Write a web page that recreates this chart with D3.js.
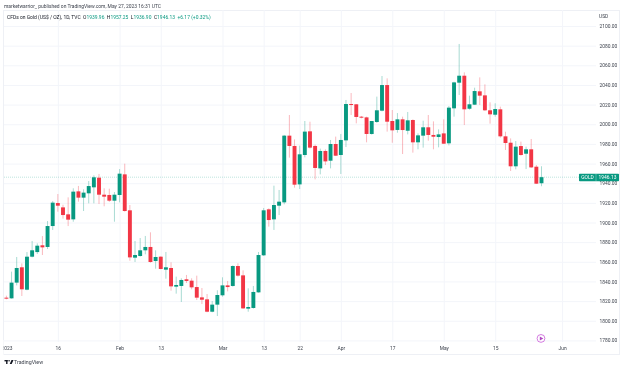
<!DOCTYPE html>
<html><head><meta charset="utf-8">
<script src="https://cdn.jsdelivr.net/npm/d3@7"></script>
<style>
html,body{margin:0;padding:0;background:#fff;overflow:hidden}
svg{display:block;filter:blur(0.35px)}
text{font-family:Roboto,"Liberation Sans",sans-serif}
</style></head><body><div id="chart"></div>
<script>
const opens=[1823.5,1822.8,1838.8,1854.4,1831.6,1865.2,1869.9,1876.8,1875.1,1896.4,1919.8,1915.4,1908.3,1903.2,1931.7,1925.3,1929.7,1935.8,1945.6,1928.3,1928.0,1922.2,1928.0,1949.0,1912.4,1864.2,1865.9,1871.7,1875.1,1860.8,1865.2,1852.0,1853.7,1834.7,1835.4,1842.2,1840.8,1834.3,1823.8,1821.8,1809.2,1816.4,1825.9,1836.0,1835.4,1855.7,1846.2,1812.3,1813.0,1828.9,1866.6,1913.4,1903.2,1917.1,1920.5,1988.4,1977.9,1938.8,1968.7,1992.8,1977.9,1955.1,1972.8,1962.9,1979.9,1968.7,1983.6,2020.6,2020.3,2007.7,2007.0,1990.1,2002.3,2013.8,2039.9,2003.3,1994.2,2005.0,1993.4,2004.3,1981.6,1988.4,1996.9,1989.1,1987.0,1990.7,1980.6,2016.2,2042.3,2049.4,2015.8,2019.9,2033.5,2029.4,2014.2,2009.7,2015.2,1987.7,1981.2,1957.2,1977.8,1970.0,1974.5,1956.8,1939.96];
const highs=[1825.5,1850.0,1864.9,1858.4,1869.9,1881.2,1878.8,1886.2,1901.5,1921.9,1929.0,1918.1,1925.6,1934.8,1937.2,1933.8,1942.2,1948.0,1949.4,1934.8,1934.4,1931.0,1954.4,1959.9,1917.8,1881.2,1884.2,1886.3,1890.0,1871.7,1865.6,1870.0,1859.5,1844.9,1843.2,1846.6,1843.2,1845.9,1833.3,1827.2,1820.1,1831.0,1844.2,1840.5,1856.4,1858.4,1851.3,1833.0,1835.4,1870.0,1914.8,1914.4,1937.5,1933.1,1989.1,2009.4,1984.6,1978.2,2003.3,2002.6,1979.2,1975.2,1974.5,1984.0,1987.4,1990.1,2024.7,2031.8,2020.6,2008.4,2007.7,2003.3,2028.1,2049.1,2046.7,2014.5,2011.4,2007.7,2012.5,2005.0,1990.7,2003.6,2009.4,2002.9,1994.8,2005.0,2018.6,2043.3,2081.7,2052.8,2029.1,2037.2,2047.7,2040.6,2022.3,2021.3,2017.9,1992.4,1985.6,1982.9,1982.3,1977.2,1985.0,1958.5,1957.25];
const lows=[1821.8,1822.5,1836.0,1825.2,1831.0,1864.5,1867.9,1866.9,1873.0,1892.4,1911.0,1903.9,1896.4,1900.8,1921.2,1911.7,1919.5,1919.5,1918.8,1916.5,1920.9,1900.8,1920.5,1911.0,1861.1,1859.8,1865.2,1867.6,1859.1,1853.0,1852.3,1842.8,1830.6,1827.6,1819.1,1838.4,1832.0,1821.1,1817.0,1808.6,1808.6,1804.8,1824.5,1829.9,1834.7,1844.9,1812.0,1809.2,1812.3,1828.6,1865.9,1895.8,1892.4,1907.6,1918.5,1966.0,1935.5,1934.1,1966.3,1975.2,1943.9,1949.0,1958.5,1955.1,1967.7,1949.4,1976.8,2009.4,2000.9,2006.0,1981.6,1989.4,2001.3,2013.1,1992.5,1981.2,1991.4,1969.7,1989.7,1971.1,1974.5,1976.2,1983.3,1974.5,1976.5,1979.9,1978.5,2007.7,2029.8,1999.2,2014.8,2019.6,2019.6,2013.5,2000.6,2007.7,1986.3,1973.8,1952.4,1954.1,1968.0,1954.4,1955.5,1939.2,1936.9];
const closes=[1822.5,1838.8,1853.7,1832.0,1865.2,1871.7,1876.4,1874.7,1896.4,1920.2,1917.1,1907.6,1902.9,1931.4,1925.3,1930.4,1937.1,1946.0,1928.3,1926.3,1922.2,1928.3,1949.7,1911.7,1864.5,1866.9,1871.7,1875.1,1859.8,1864.9,1852.7,1854.4,1835.0,1836.4,1841.5,1840.5,1834.0,1823.5,1821.4,1809.2,1816.4,1826.2,1836.0,1834.3,1855.7,1845.9,1812.6,1814.0,1829.3,1866.9,1912.4,1902.5,1917.8,1921.2,1988.4,1977.9,1938.5,1969.4,1992.5,1976.2,1955.5,1972.8,1962.2,1979.9,1968.0,1984.0,2020.6,2019.9,2007.4,2006.7,1990.1,2003.3,2014.2,2039.9,2002.6,1993.8,2005.0,1994.1,2004.0,1981.6,1988.7,1996.9,1989.1,1987.3,1989.7,1980.2,2016.9,2042.6,2049.4,2015.2,2020.3,2033.8,2029.1,2014.2,2010.1,2015.5,1987.7,1980.9,1957.2,1977.2,1968.7,1974.5,1956.1,1939.5,1946.13];
const priceTicks=[2100,2080,2060,2040,2020,2000,1980,1960,1940,1920,1900,1880,1860,1840,1820,1800,1780];
const dayTicks=[0,10,22,30,42,50,57,65,75,85,95,108];
const dayLabels=["2023","16","Feb","13","Mar","13","22","Apr","17","May","15","Jun"];
const legendParts=[["CFDs on Gold (US$ / OZ), 1D, TVC  ","#131722"],["O","#131722"],["1939.96  ","#089981"],["H","#131722"],["1957.25  ","#089981"],["L","#131722"],["1936.90  ","#089981"],["C","#131722"],["1946.13  +6.17 (+0.32%)","#089981"]];
const lastPrice=1946.13, eventDay=103.9, eventPrice=1782;
const UP="#089981",DOWN="#f23645",GRID="#f3f5fa";
const W=624,H=369,L=4,R=596,T=10,B=342,BF=354,RF=620;
const x=d3.scaleLinear().domain([0,104]).range([6.4,541.5]);
const y=d3.scaleLinear().domain([1780,2100]).range([340.4,26]);
const svg=d3.select("#chart").append("svg").attr("width",W).attr("height",H).attr("viewBox",[0,0,W,H]);
svg.append("rect").attr("x",L-.5).attr("y",T+.5).attr("width",RF-L).attr("height",BF-T).attr("fill","#fff").attr("stroke","#eef0f5");
// horizontal grid + price labels
const yAxis=d3.axisRight(y).tickValues(priceTicks).tickFormat(d3.format(".2f")).tickSize(R-L).tickPadding(3.5);
const yg=svg.append("g").attr("transform",`translate(${L},0)`).call(yAxis);
yg.select(".domain").remove();
yg.selectAll("line").attr("stroke",GRID);
yg.selectAll("text").attr("font-size",4.9).attr("fill","#3a3f4a");
// vertical grid + date labels
const xAxis=d3.axisBottom(x).tickValues(dayTicks).tickFormat((d,i)=>dayLabels[i]).tickSize(B-T).tickPadding(6);
const xg=svg.append("g").attr("transform",`translate(0,${T})`).call(xAxis);
xg.select(".domain").remove();
xg.selectAll("line").attr("stroke",GRID);
xg.selectAll("text").attr("font-size",4.9).attr("fill","#3a3f4a").attr("dy","0.5em");
xg.selectAll("g.tick").filter((d,i)=>i===0).select("line").remove();
svg.append("rect").attr("x",0).attr("y",340).attr("width",L-.5).attr("height",20).attr("fill","#fff");
// last-price line
svg.append("line").attr("x1",L).attr("x2",R).attr("y1",y(lastPrice)).attr("y2",y(lastPrice)).attr("stroke","#089981").attr("stroke-opacity",.38).attr("stroke-dasharray","1 1").attr("stroke-width",.7);
// candles
const idx=d3.range(opens.length);
const col=i=>closes[i]>=opens[i]?UP:DOWN;
svg.append("g").selectAll("line").data(idx).join("line")
 .attr("x1",x).attr("x2",x).attr("y1",i=>y(highs[i])).attr("y2",i=>y(lows[i]))
 .attr("stroke",col).attr("stroke-opacity",.35).attr("stroke-width",1);
svg.append("g").selectAll("rect").data(idx).join("rect")
 .attr("x",i=>x(i)-1.95).attr("width",3.9)
 .attr("y",i=>y(Math.max(opens[i],closes[i])))
 .attr("height",i=>Math.max(1,Math.abs(y(opens[i])-y(closes[i]))))
 .attr("fill",col);
// price tag
const tag=svg.append("g");
tag.append("rect").attr("x",579).attr("y",y(lastPrice)-3.5).attr("width",40).attr("height",7.5).attr("rx",.8).attr("fill",UP);
tag.append("line").attr("x1",596).attr("x2",596).attr("y1",y(lastPrice)-3.5).attr("y2",y(lastPrice)+4).attr("stroke","#fff").attr("stroke-opacity",.6).attr("stroke-width",.5);
tag.append("text").attr("x",587.5).attr("y",y(lastPrice)+2.2).attr("text-anchor","middle").attr("font-size",4.9).attr("fill","#fff").text("GOLD");
tag.append("text").attr("x",607.5).attr("y",y(lastPrice)+2.2).attr("text-anchor","middle").attr("font-size",4.9).attr("fill","#fff").text(d3.format(".2f")(lastPrice));
// USD
svg.append("text").attr("x",599).attr("y",17.5).attr("font-size",4.9).attr("fill","#3a3f4a").text("USD");
// event marker
const ev=svg.append("g").attr("transform",`translate(${x(eventDay)},${y(eventPrice)})`);
ev.append("circle").attr("r",3.9).attr("fill","#fff").attr("stroke","#cf6cdc").attr("stroke-width",.9);
ev.append("path").attr("d",d3.symbol(d3.symbolTriangle,7)).attr("transform","rotate(90)").attr("fill","#b04cc0");
// header
svg.append("text").attr("x",4).attr("y",7.5).attr("font-size",4.95).attr("fill","#3a3f4a").text("marketwarrior_ published on TradingView.com, May 27, 2023 16:31 UTC");
const leg=svg.append("text").attr("x",7).attr("y",18.8).attr("font-size",4.95).attr("xml:space","preserve");
leg.selectAll("tspan").data(legendParts).join("tspan").attr("fill",d=>d[1]).style("white-space","pre").text(d=>d[0]);
// footer logo
const logo=svg.append("g").attr("transform","translate(4.5,360)");
logo.append("rect").attr("width",3.2).attr("height",1.4).attr("fill","#131722");
logo.append("rect").attr("x",1.6).attr("width",1.4).attr("height",4).attr("fill","#131722");
logo.append("circle").attr("cx",4.6).attr("cy",.8).attr("r",.8).attr("fill","#131722");
logo.append("path").attr("d","M5.2 4L7 0H9L7.2 4Z").attr("fill","#131722");
svg.append("text").attr("x",14).attr("y",364).attr("font-size",5.3).attr("fill","#3a3f4a").text("TradingView");
</script></body></html>
